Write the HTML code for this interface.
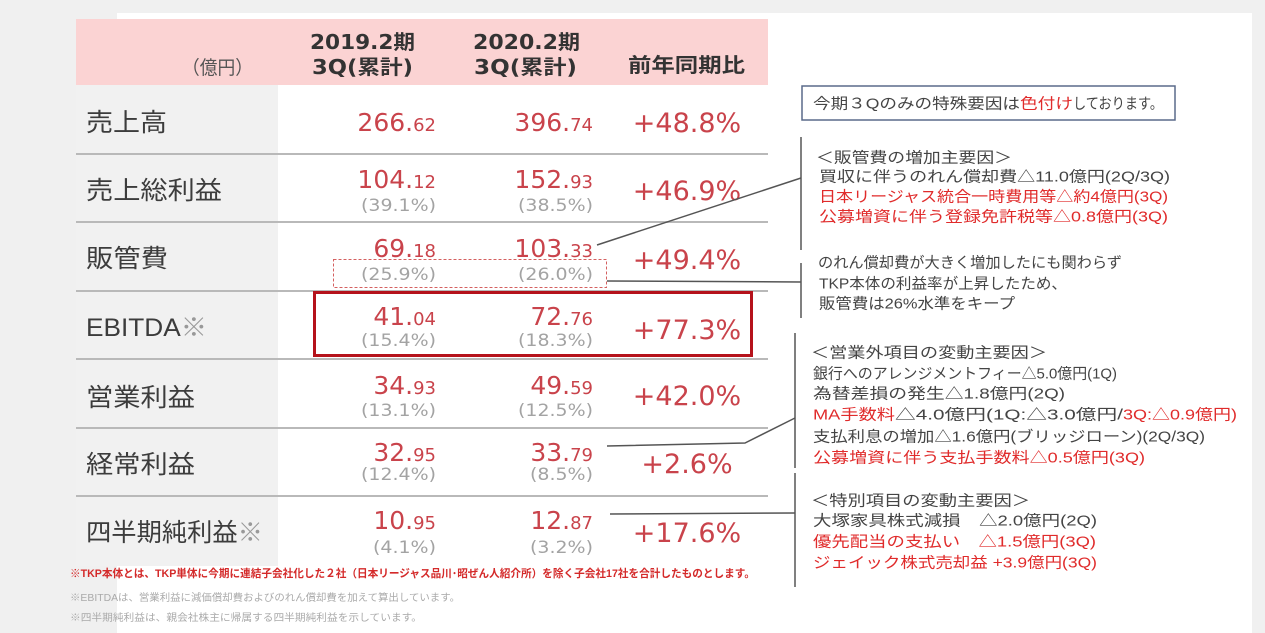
<!DOCTYPE html>
<html><head><meta charset="utf-8">
<style>
html,body{margin:0;padding:0;background:#f0f0f0;}
svg{display:block;}
.j{font-family:"Liberation Sans","Noto Sans CJK JP",sans-serif;}
.n{font-family:"DejaVu Sans","Liberation Sans",sans-serif;}
.lab{font-size:25px;fill:#3c3c3c;}
.hd{font-size:20px;font-weight:bold;fill:#333;}
.big{fill:#c9434b;}
.sub{font-size:17px;fill:#a3a3a3;}
.pct{font-size:27px;fill:#c9434b;}
.r{font-size:15px;fill:#444;}
.rr{font-size:15px;fill:#e02b2b;}
</style></head>
<body>
<svg width="1265" height="633" viewBox="0 0 1265 633" xmlns="http://www.w3.org/2000/svg">
<rect x="0" y="0" width="1265" height="633" fill="#f0f0f0"/>
<rect x="117" y="13" width="1135" height="620" fill="#ffffff"/>
<rect x="76" y="85" width="202" height="481" fill="#f1f1f1"/>
<rect x="76" y="19" width="692" height="66" fill="#fbd3d3"/>

<g stroke="#b9b9b9" stroke-width="2">
<line x1="76" y1="154" x2="768" y2="154"/>
<line x1="76" y1="222" x2="768" y2="222"/>
<line x1="76" y1="291" x2="768" y2="291"/>
<line x1="76" y1="359" x2="768" y2="359"/>
<line x1="76" y1="428" x2="768" y2="428"/>
<line x1="76" y1="496" x2="768" y2="496"/>
</g>

<text class="j" x="182" y="74" font-size="19" fill="#555" textLength="71" lengthAdjust="spacingAndGlyphs">（億円）</text>
<text class="n hd" x="310" y="49" textLength="105" lengthAdjust="spacingAndGlyphs">2019.2<tspan class="j">期</tspan></text>
<text class="n hd" x="312" y="74" textLength="101" lengthAdjust="spacingAndGlyphs">3Q(<tspan class="j">累計</tspan>)</text>
<text class="n hd" x="473" y="49" textLength="107" lengthAdjust="spacingAndGlyphs">2020.2<tspan class="j">期</tspan></text>
<text class="n hd" x="474" y="74" textLength="103" lengthAdjust="spacingAndGlyphs">3Q(<tspan class="j">累計</tspan>)</text>
<text class="j hd" x="628" y="72" textLength="117" lengthAdjust="spacingAndGlyphs">前年同期比</text>

<text class="j lab" x="86" y="131" textLength="81" lengthAdjust="spacingAndGlyphs">売上高</text>
<text class="j lab" x="86" y="199" textLength="136" lengthAdjust="spacingAndGlyphs">売上総利益</text>
<text class="j lab" x="86" y="267" textLength="82" lengthAdjust="spacingAndGlyphs">販管費</text>
<text class="j lab" x="86" y="336" fill="#505050" textLength="121" lengthAdjust="spacingAndGlyphs">EBITDA<tspan fill="#999">※</tspan></text>
<text class="j lab" x="86" y="406" textLength="109" lengthAdjust="spacingAndGlyphs">営業利益</text>
<text class="j lab" x="86" y="473" textLength="109" lengthAdjust="spacingAndGlyphs">経常利益</text>
<text class="j lab" x="86" y="541" textLength="177" lengthAdjust="spacingAndGlyphs">四半期純利益<tspan fill="#999">※</tspan></text>

<g class="n big" text-anchor="end">
<text x="436" y="131" font-size="25">266.<tspan font-size="18">62</tspan></text>
<text x="436" y="188" font-size="25">104.<tspan font-size="18">12</tspan></text>
<text x="436" y="257" font-size="25">69.<tspan font-size="18">18</tspan></text>
<text x="436" y="325" font-size="25">41.<tspan font-size="18">04</tspan></text>
<text x="436" y="394" font-size="25">34.<tspan font-size="18">93</tspan></text>
<text x="436" y="461" font-size="25">32.<tspan font-size="18">95</tspan></text>
<text x="436" y="529" font-size="25">10.<tspan font-size="18">95</tspan></text>
</g>
<g class="n big" text-anchor="end">
<text x="593" y="131" font-size="25">396.<tspan font-size="18">74</tspan></text>
<text x="593" y="188" font-size="25">152.<tspan font-size="18">93</tspan></text>
<text x="593" y="257" font-size="25">103.<tspan font-size="18">33</tspan></text>
<text x="593" y="325" font-size="25">72.<tspan font-size="18">76</tspan></text>
<text x="593" y="394" font-size="25">49.<tspan font-size="18">59</tspan></text>
<text x="593" y="461" font-size="25">33.<tspan font-size="18">79</tspan></text>
<text x="593" y="529" font-size="25">12.<tspan font-size="18">87</tspan></text>
</g>
<g class="n sub">
<text x="361" y="211" textLength="75" lengthAdjust="spacingAndGlyphs">(39.1%)</text>
<text x="518" y="211" textLength="75" lengthAdjust="spacingAndGlyphs">(38.5%)</text>
<text x="361" y="280" textLength="75" lengthAdjust="spacingAndGlyphs">(25.9%)</text>
<text x="518" y="280" textLength="75" lengthAdjust="spacingAndGlyphs">(26.0%)</text>
<text x="361" y="346" textLength="75" lengthAdjust="spacingAndGlyphs">(15.4%)</text>
<text x="518" y="346" textLength="75" lengthAdjust="spacingAndGlyphs">(18.3%)</text>
<text x="361" y="416" textLength="75" lengthAdjust="spacingAndGlyphs">(13.1%)</text>
<text x="518" y="416" textLength="75" lengthAdjust="spacingAndGlyphs">(12.5%)</text>
<text x="361" y="480" textLength="75" lengthAdjust="spacingAndGlyphs">(12.4%)</text>
<text x="530" y="480" textLength="63" lengthAdjust="spacingAndGlyphs">(8.5%)</text>
<text x="373" y="553" textLength="63" lengthAdjust="spacingAndGlyphs">(4.1%)</text>
<text x="530" y="553" textLength="63" lengthAdjust="spacingAndGlyphs">(3.2%)</text>
</g>
<g class="n pct" text-anchor="middle">
<text x="687" y="132">+48.8%</text>
<text x="687" y="200">+46.9%</text>
<text x="687" y="269">+49.4%</text>
<text x="687" y="339">+77.3%</text>
<text x="687" y="405">+42.0%</text>
<text x="687" y="473">+2.6%</text>
<text x="687" y="542">+17.6%</text>
</g>

<rect x="333.5" y="259.5" width="273" height="28" fill="none" stroke="#d46060" stroke-width="1" stroke-dasharray="3,2"/>
<rect x="314.5" y="292.5" width="437" height="63" fill="none" stroke="#b5121b" stroke-width="3"/>

<g stroke="#555" stroke-width="1.5" fill="none">
<line x1="597" y1="245" x2="801" y2="178"/>
<line x1="607" y1="281" x2="801" y2="282"/>
<line x1="801" y1="137" x2="801" y2="250"/>
<line x1="801" y1="263" x2="801" y2="318"/>
<polyline points="607,446 745,443 795,418"/>
<line x1="795" y1="333" x2="795" y2="468"/>
<line x1="610" y1="514" x2="795" y2="513"/>
<line x1="795" y1="473" x2="795" y2="587"/>
</g>

<rect x="802" y="86" width="373" height="34" fill="#fff" stroke="#5a6a8a" stroke-width="1.5"/>
<text class="j r" x="813" y="108.5" textLength="207" lengthAdjust="spacingAndGlyphs">今期３Qのみの特殊要因は</text>
<text class="j rr" x="1020" y="108.5" textLength="53" lengthAdjust="spacingAndGlyphs">色付け</text>
<text class="j r" x="1073" y="108.5" textLength="90" lengthAdjust="spacingAndGlyphs">しております。</text>

<text class="j r" x="816" y="162.5" textLength="196" lengthAdjust="spacingAndGlyphs">＜販管費の増加主要因＞</text>
<text class="j r" x="819" y="181.5" textLength="351" lengthAdjust="spacingAndGlyphs">買収に伴うのれん償却費△11.0億円(2Q/3Q)</text>
<text class="j rr" x="819" y="201.5" textLength="349" lengthAdjust="spacingAndGlyphs">日本リージャス統合一時費用等△約4億円(3Q)</text>
<text class="j rr" x="819" y="221.5" textLength="349" lengthAdjust="spacingAndGlyphs">公募増資に伴う登録免許税等△0.8億円(3Q)</text>

<text class="j r" x="818" y="267.5" textLength="304" lengthAdjust="spacingAndGlyphs">のれん償却費が大きく増加したにも関わらず</text>
<text class="j r" x="819" y="288.5" textLength="248" lengthAdjust="spacingAndGlyphs">TKP本体の利益率が上昇したため、</text>
<text class="j r" x="819" y="308.5" textLength="196" lengthAdjust="spacingAndGlyphs">販管費は26%水準をキープ</text>

<text class="j r" x="811" y="357.5" textLength="236" lengthAdjust="spacingAndGlyphs">＜営業外項目の変動主要因＞</text>
<text class="j r" x="813" y="378.5" textLength="304" lengthAdjust="spacingAndGlyphs">銀行へのアレンジメントフィー△5.0億円(1Q)</text>
<text class="j r" x="813" y="398.5" textLength="252" lengthAdjust="spacingAndGlyphs">為替差損の発生△1.8億円(2Q)</text>
<text class="j rr" x="813" y="419.5" textLength="82" lengthAdjust="spacingAndGlyphs">MA手数料</text>
<text class="j r" x="895" y="419.5" textLength="228" lengthAdjust="spacingAndGlyphs">△4.0億円(1Q:△3.0億円/</text>
<text class="j rr" x="1123" y="419.5" textLength="114" lengthAdjust="spacingAndGlyphs">3Q:△0.9億円)</text>
<text class="j r" x="813" y="441.5" textLength="392" lengthAdjust="spacingAndGlyphs">支払利息の増加△1.6億円(ブリッジローン)(2Q/3Q)</text>
<text class="j rr" x="813" y="462.5" textLength="332" lengthAdjust="spacingAndGlyphs">公募増資に伴う支払手数料△0.5億円(3Q)</text>

<text class="j r" x="811" y="505.5" textLength="219" lengthAdjust="spacingAndGlyphs">＜特別項目の変動主要因＞</text>
<text class="j r" x="813" y="525.5" textLength="284" lengthAdjust="spacingAndGlyphs">大塚家具株式減損　△2.0億円(2Q)</text>
<text class="j rr" x="813" y="546.5" textLength="283" lengthAdjust="spacingAndGlyphs">優先配当の支払い　△1.5億円(3Q)</text>
<text class="j rr" x="813" y="567.5" textLength="284" lengthAdjust="spacingAndGlyphs">ジェイック株式売却益 +3.9億円(3Q)</text>

<text class="j" x="70" y="577" font-size="11" font-weight="bold" fill="#d42a2a" textLength="685" lengthAdjust="spacingAndGlyphs">※TKP本体とは、TKP単体に今期に連結子会社化した２社（日本リージャス品川･昭ぜん人紹介所）を除く子会社17社を合計したものとします。</text>
<text class="j" x="70" y="601" font-size="10" fill="#aaaaaa" textLength="390" lengthAdjust="spacingAndGlyphs">※EBITDAは、営業利益に減価償却費およびのれん償却費を加えて算出しています。</text>
<text class="j" x="70" y="621" font-size="10" fill="#aaaaaa" textLength="352" lengthAdjust="spacingAndGlyphs">※四半期純利益は、親会社株主に帰属する四半期純利益を示しています。</text>
</svg>
</body></html>
